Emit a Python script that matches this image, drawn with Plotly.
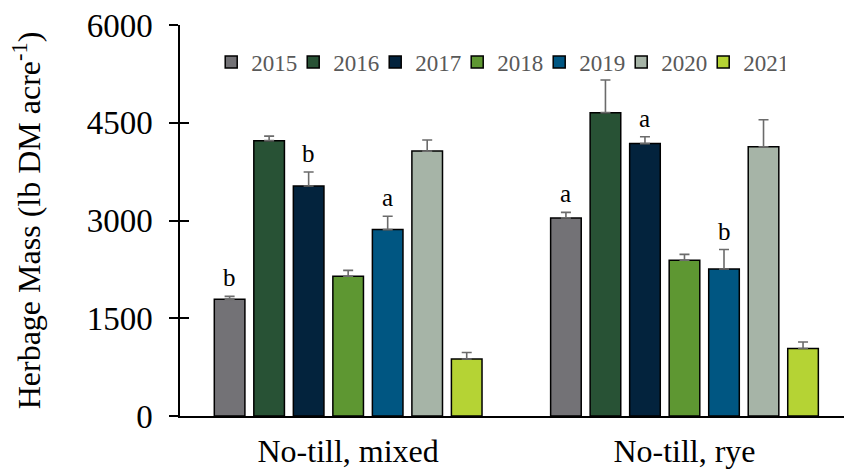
import plotly.graph_objects as go

# Herbage mass by planting system and year
systems = ["No-till, mixed", "No-till, rye"]
years = ["2015", "2016", "2017", "2018", "2019", "2020", "2021"]

mass_mixed = [1790, 4225, 3530, 2145, 2860, 4065, 875]
err_mixed = [45, 70, 215, 90, 205, 170, 100]
mass_rye = [3040, 4655, 4180, 2390, 2255, 4130, 1035]
err_rye = [85, 500, 105, 90, 300, 415, 100]

# mean-separation letters (year -> [mixed, rye])
letters = {"2015": ["b", "a"], "2017": ["b", "a"], "2019": ["a", "b"]}

colors = ["#737276", "#285235", "#03233D", "#5E9732", "#005682", "#A6B4A7", "#B5D334"]

y_ticks = [0, 1500, 3000, 4500, 6000]

FONT = "Liberation Serif"

# bar layout in category units
slot = 0.1175
bar_w = 0.091
n = len(years)

fig = go.Figure()
annotations = []
for i, yr in enumerate(years):
    vals = [mass_mixed[i], mass_rye[i]]
    errs = [err_mixed[i], err_rye[i]]
    off = (i - n / 2) * slot + (slot - bar_w) / 2
    fig.add_trace(go.Bar(
        name=yr,
        x=[0, 1],
        y=vals,
        width=bar_w,
        offset=off,
        marker=dict(color=colors[i], line=dict(color="black", width=1.5)),
        error_y=dict(type="data", array=errs, arrayminus=[0, 0], symmetric=False,
                     color="#6b6b6b", thickness=1.6, width=5),
    ))
    if yr in letters:
        for g in range(2):
            annotations.append(dict(
                x=g + off + bar_w / 2, y=vals[g] + errs[g],
                xref="x", yref="y", text=letters[yr][g], showarrow=False,
                yanchor="bottom", xanchor="center", yshift=3,
                font=dict(family=FONT, size=25, color="black"),
            ))

fig.update_layout(
    width=844, height=470,
    margin=dict(l=180, r=0, t=25, b=54),
    paper_bgcolor="white", plot_bgcolor="white",
    font=dict(family=FONT, color="black"),
    annotations=annotations,
    showlegend=True,
    legend=dict(
        orientation="h", x=0.047, y=0.905, xanchor="left", yanchor="middle",
        font=dict(family=FONT, size=23, color="#595959"),
        bgcolor="rgba(0,0,0,0)", traceorder="normal",
        entrywidth=37, entrywidthmode="pixels",
    ),
    xaxis=dict(
        range=[-0.5, 1.4743], tickvals=[0, 1], ticktext=systems,
        showline=True, linecolor="black", linewidth=1.5,
        ticks="", showgrid=False, zeroline=False,
        tickfont=dict(family=FONT, size=32, color="black"),
        ticklabelstandoff=6,
    ),
    yaxis=dict(
        range=[0, 6000], tickvals=y_ticks,
        showline=True, linecolor="black", linewidth=1.5,
        ticks="outside", ticklen=9, tickwidth=1.5, tickcolor="black",
        showgrid=False, zeroline=False,
        tickfont=dict(family=FONT, size=33, color="black"),
        ticklabelstandoff=10,
        title=dict(text="Herbage Mass (lb DM acre<sup>-1</sup>)",
                   font=dict(family=FONT, size=32, color="black"), standoff=36),
    ),
    # inner half of the crossing tick marks
    yaxis2=dict(
        range=[0, 6000], tickvals=y_ticks, overlaying="y", side="left",
        ticks="inside", ticklen=9, tickwidth=1.5, tickcolor="black",
        showticklabels=False, showgrid=False, zeroline=False, showline=False,
    ),
)

fig.add_trace(go.Scatter(x=[0], y=[0], yaxis="y2", mode="markers",
                         marker=dict(opacity=0), showlegend=False, hoverinfo="skip"))

fig.write_html("out.html")
